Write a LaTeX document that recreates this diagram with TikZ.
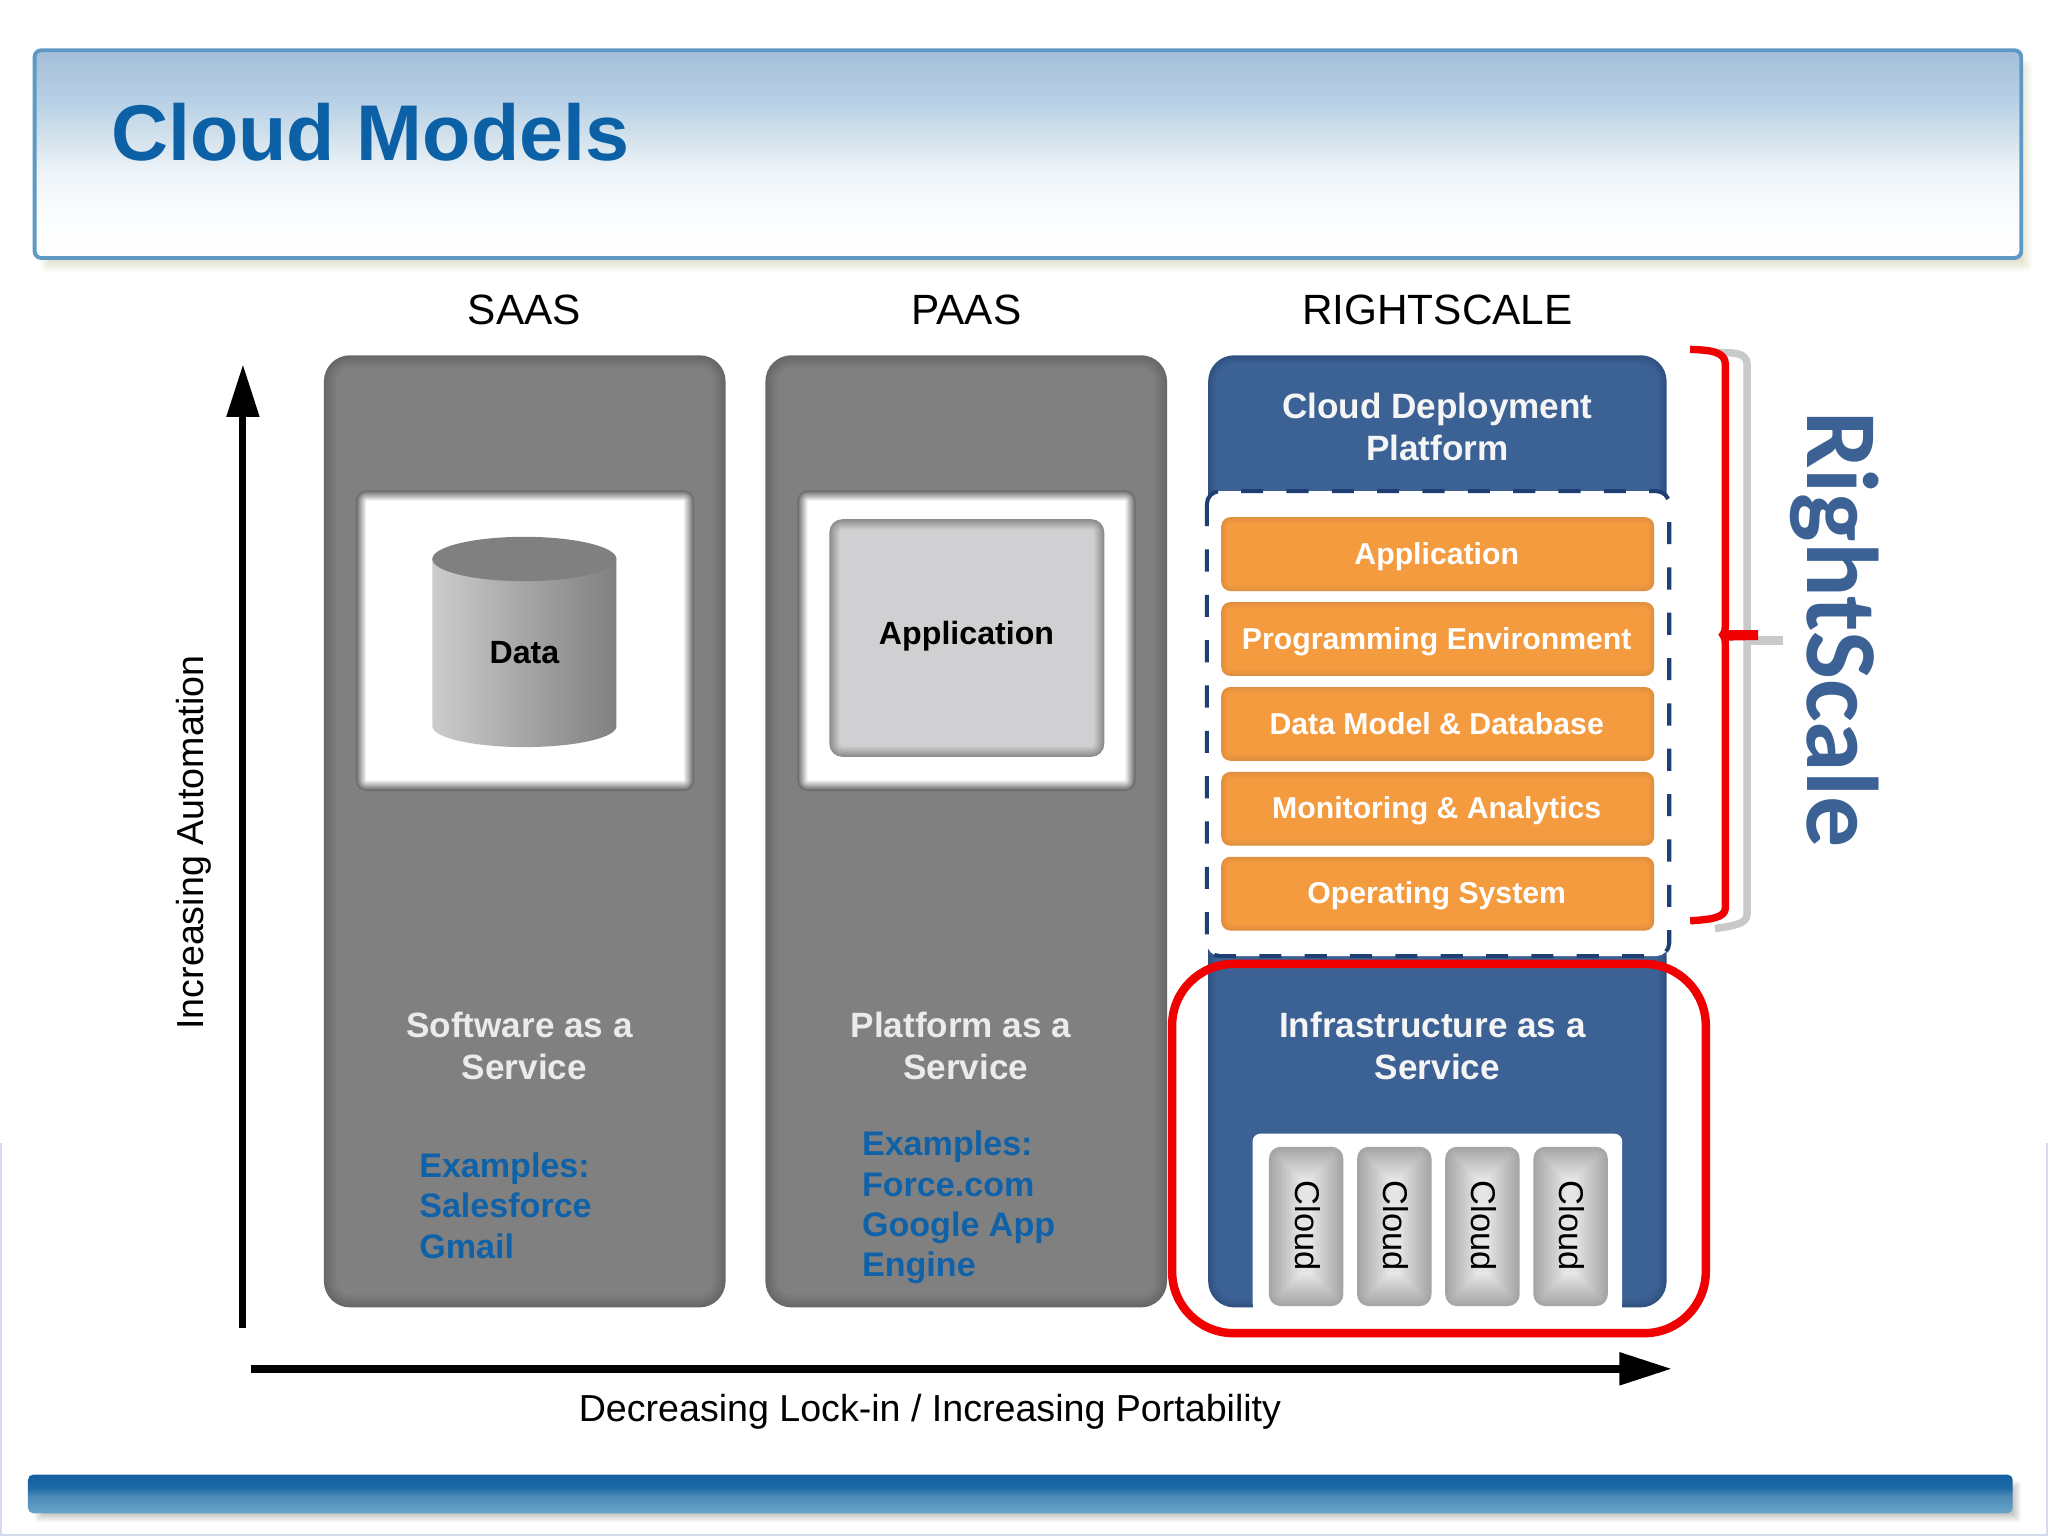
\documentclass[tikz,border=0pt]{standalone}
\usepackage{fontspec}
\setmainfont{Liberation Sans}
\newfontfamily\carlitofont{Carlito}
\usetikzlibrary{arrows.meta}
\definecolor{titleblue}{HTML}{0B60A6}
\definecolor{examplesblue}{HTML}{0F62A8}
\definecolor{rsblue}{HTML}{3C6295}
\definecolor{rsblueedge}{HTML}{2F5180}
\definecolor{navy}{HTML}{1F3F74}
\definecolor{panelgray}{HTML}{808080}
\definecolor{paneledge}{HTML}{676767}
\definecolor{winedge}{HTML}{6A6A6A}
\definecolor{appcore}{HTML}{D0D0D2}
\definecolor{appedge}{HTML}{8C8C8C}
\definecolor{orcore}{HTML}{F59B3F}
\definecolor{oredge}{HTML}{E08F3F}
\definecolor{cloudcore}{HTML}{E6E6E6}
\definecolor{cloudedge}{HTML}{A6A6A6}
\definecolor{bracegray}{HTML}{C9C9C9}
\definecolor{redline}{HTML}{F00000}
\definecolor{tA}{HTML}{A4BED8}
\definecolor{tB}{HTML}{B7D0E6}
\definecolor{tC}{HTML}{D3E2EC}
\definecolor{tD}{HTML}{EDF3F8}
\definecolor{tE}{HTML}{F9FBFD}
\definecolor{bA}{HTML}{135F9F}
\definecolor{bB}{HTML}{1E6AA5}
\definecolor{bC}{HTML}{4A8AB5}
\definecolor{bD}{HTML}{69A5CB}
\definecolor{titleborder}{HTML}{5F9AC5}
\definecolor{edgeblue}{HTML}{D3DCEA}
\pgfdeclareverticalshading{titleshade}{100bp}{color(0bp)=(white); color(25bp)=(white); color(37.5bp)=(tE); color(46bp)=(tD); color(54bp)=(tC); color(63bp)=(tB); color(75bp)=(tA); color(100bp)=(tA)}
\pgfdeclareverticalshading{barshade}{100bp}{color(0bp)=(bD); color(25bp)=(bD); color(47.5bp)=(bC); color(57.5bp)=(bB); color(75bp)=(bA); color(100bp)=(bA)}
\newcommand{\softbox}[8]{%
  \foreach \si in {0,...,12}{%
    \pgfmathsetmacro\sd{#8*\si/12}%
    \pgfmathsetmacro\sr{max(#5-\sd,0.5)*0.3716}%
    \pgfmathsetmacro\sq{100*\si/12}%
    \fill[#7!\sq!#6, rounded corners=\sr pt] (#1+\sd,#2+\sd) rectangle (#3-\sd,#4-\sd);
  }%
}
\tikzset{
  every node/.style={inner sep=0pt,outer sep=0pt},
  hdr/.style={anchor=base,font=\fontsize{12.05}{14}\selectfont,text=black},
  axislbl/.style={font=\fontsize{10.7}{13}\selectfont,text=black},
  lbl/.style={align=center,font=\fontsize{10}{11.9}\selectfont\bfseries,text=#1},
  lbl/.default={white!92!black},
  ex/.style={anchor=west,align=left,font=\fontsize{9.7}{11.5}\selectfont\bfseries,text=examplesblue},
  bar/.style={anchor=base,font=\fontsize{8.6}{10}\selectfont\bfseries,text=white},
  dark/.style={font=\fontsize{9.15}{11}\selectfont\bfseries,text=black},
  cloudlbl/.style={rotate=-90,font=\fontsize{9.8}{12}\selectfont,text=black},
  axisarrow/.style={draw=black,line width=2.1pt,-{Triangle[length=14.9pt,width=8.9pt]}},
}
\begin{document}
\begin{tikzpicture}[x=0.0130612cm,y=-0.0130612cm]
\useasboundingbox (0,0) rectangle (1568,1176);
\fill[white] (0,0) rectangle (1568,1176);
% page edge
\fill[edgeblue] (0,875) rectangle (1.2,1176);
\fill[edgeblue] (1566.8,875) rectangle (1568,1176);
\fill[edgeblue] (0,1174.6) rectangle (1568,1176);
% title band
\softbox{30}{45}{1557}{209}{6}{white}{white!85!black!90!yellow}{10}
\shade[shading=titleshade,rounded corners=1.9pt,draw=titleborder,line width=1.1pt] (26.5,38.5) rectangle (1547.5,197.5);
\node[anchor=base west,font=\fontsize{22.5}{26}\selectfont\bfseries,text=titleblue] (title) at (85,123) {Cloud Models};
% column headings
\node[hdr] (saashead) at (401.5,248.5) {SAAS};
\node[hdr] (paashead) at (740,248.5) {PAAS};
\node[hdr] (rshead) at (1100.5,248.5) {RIGHTSCALE};
% SAAS panel
\softbox{248}{272}{555.5}{1001}{20}{paneledge}{panelgray}{10}
\softbox{272.5}{375.5}{531.5}{605.5}{8}{winedge}{white}{8}
\shade[left color=white!80!black,middle color=white!69!black,right color=panelgray]
  (331,428) -- (331,556) arc[start angle=180,end angle=0,x radius=70.5,y radius=16] -- (472,428) -- cycle;
\fill[panelgray] (401.5,428) ellipse [x radius=70.5,y radius=17];
\node[dark] (data) at (401.5,500) {Data};
\node[lbl] (saaslbl) at (401.5,801) {Software as a\hspace*{.278em}\\Service};
\node[ex] (saasex) at (321,923) {Examples:\\Salesforce\\Gmail};
% PAAS panel
\softbox{586}{272}{893.5}{1001}{20}{paneledge}{panelgray}{10}
\softbox{610.5}{375.5}{869.5}{605.5}{8}{winedge}{white}{8}
\softbox{635}{397.5}{845.5}{579.5}{10}{appedge}{appcore}{8}
\node[dark] (app) at (740,487) {Application};
\node[lbl] (paaslbl) at (739.5,801) {Platform as a\hspace*{.278em}\\Service};
\node[ex] (paasex) at (660,924.5) {Examples:\\Force.com\\Google App\\Engine};
% RightScale column
\softbox{925}{272}{1276}{430}{20}{rsblueedge}{rsblue}{7}
\softbox{925}{690}{1276}{1001}{20}{rsblueedge}{rsblue}{7}
\node[lbl=white!96!black] (cdp) at (1100.5,327) {Cloud Deployment\\Platform};
\path[fill=white,rounded corners=3.7pt] (924,376) rectangle (1278,732);
\path[draw=navy,line width=1.15pt,dash pattern=on 6.3pt off 6.6pt,rounded corners=3.7pt] (924,376) rectangle (1278,732);
\foreach \yy/\nm/\tx in {396/appbar/Application,461/progbar/Programming Environment,526/databar/Data Model \& Database,591/monbar/Monitoring \& Analytics,656/osbar/Operating System}{
  \softbox{935}{\yy}{1266.5}{\yy+56.5}{7}{oredge}{orcore}{5}
  \node[bar] (\nm) at (1100,\yy+36) {\tx};
}
\node[lbl=white!96!black] (iaas) at (1100.5,801) {Infrastructure as a\hspace*{.278em}\\Service};
% cloud tray
\path[fill=white,rounded corners=2.2pt] (959,868) -- (1242,868) -- (1242,1004) -- (959,1004) -- cycle;
\fill[white] (959,990) rectangle (1242,1004);
\foreach \xx/\nm in {971.5/cloudA,1039/cloudB,1106.5/cloudC,1174/cloudD}{
  \softbox{\xx}{878}{\xx+57}{1000}{9}{cloudedge}{cloudcore}{24}
  \node[cloudlbl] (\nm) at (\xx+29.5,938.5) {Cloud};
}
% red frame
\draw[redline,line width=2.4pt,rounded corners=17.5pt] (897.4,738) rectangle (1306,1020.7);
% braces
\draw[bracegray,line width=2.1pt] (1313,270) .. controls (1325,270) and (1337.6,269) .. (1337.6,279) -- (1337.6,700) .. controls (1337.6,708) and (1325,709) .. (1313,711);
\fill[bracegray] (1336,487) -- (1365,487) -- (1365,494) -- (1336,494) -- cycle;
\draw[redline,line width=2.1pt] (1294,267.5) .. controls (1309,268) and (1321,269) .. (1321,279) -- (1321,474) .. controls (1321,481) and (1321,484) .. (1319,486) .. controls (1321,488) and (1321,491) .. (1321,498) -- (1321,695) .. controls (1321,703) and (1309,704) .. (1294,705);
\fill[redline] (1316,486) -- (1322,482.5) -- (1346,482.5) -- (1346,490) -- (1322,490.5) -- (1320,492) -- cycle;
\node[anchor=base west,rotate=-90,font=\fontsize{29}{32}\selectfont\carlitofont\bfseries,text=rsblue] (rslabel) at (1384,315) {RightScale};
% axes
\coordinate (vstart) at (186,1017);
\coordinate (vend) at (186,279);
\coordinate (hstart) at (192,1048);
\coordinate (hend) at (1280,1048);
\draw[axisarrow,line width=2pt] (vstart) -- (vend);
\draw[axisarrow] (hstart) -- (hend);
\node[axislbl,rotate=90] (vlabel) at (148,645) {Increasing Automation};
\node[axislbl] (hlabel) at (712,1081) {Decreasing Lock-in / Increasing Portability};
% footer bar
\softbox{26}{1133}{1548}{1166}{4}{white}{white!77!black}{7}
\shade[shading=barshade,rounded corners=1.5pt] (21.4,1129) rectangle (1541,1158.6);
\end{tikzpicture}
\end{document}
